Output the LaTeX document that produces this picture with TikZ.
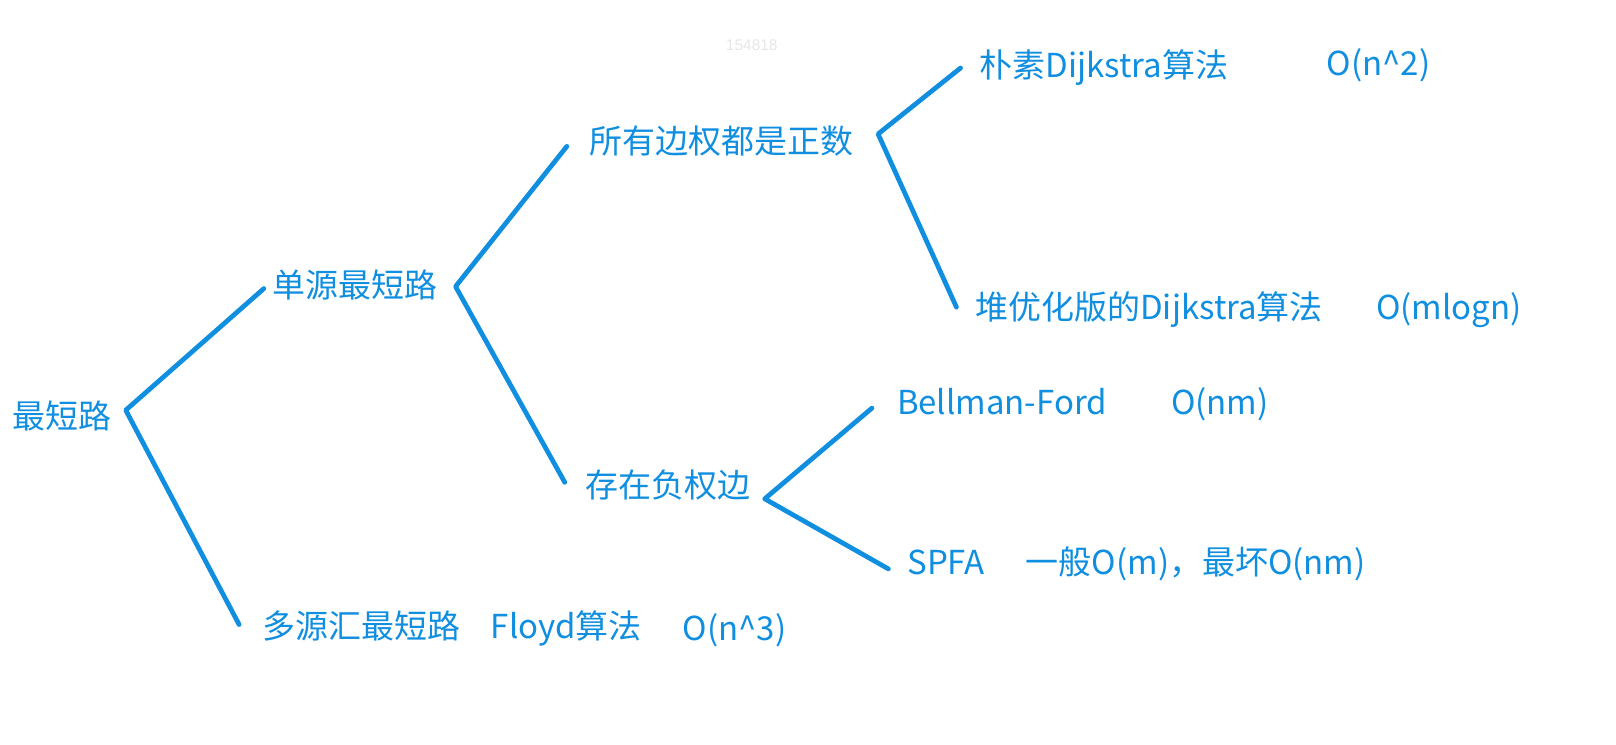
\documentclass[tikz,border=0pt]{standalone}
\usepackage{fontspec}
\setmainfont{Noto Sans CJK SC}
\newfontfamily\wmfont{Liberation Sans}
\definecolor{lc}{RGB}{16,142,224}
\definecolor{wm}{RGB}{230,230,230}
\begin{document}
\begin{tikzpicture}[x=0.5pt,y=-0.5pt,
  lbl/.style={anchor=west,inner sep=0pt,text=lc,font=\fontsize{16pt}{18pt}\selectfont,text height=13.6pt,text depth=2.4pt},
  branch/.style={draw=lc,line width=2.3pt,line cap=round,line join=round}]
\useasboundingbox (0,0) rectangle (1568,722);
% watermark
\node[anchor=west,inner sep=0pt,text=wm,font=\fontsize{7.5pt}{8pt}\selectfont\wmfont] (wm) at (704,44) {154818};
% text nodes
\node[lbl] (r) at (12,405) {最短路};
\node[lbl] (a) at (264,277) {单源最短路};
\node[lbl] (b) at (254,608) {多源汇最短路};
\node[lbl] (bf) at (476,608) {Floyd算法};
\node[lbl] (bo) at (662,610) {O(n\textasciicircum 3)};
\node[lbl] (c) at (572,138) {所有边权都是正数};
\node[lbl] (d) at (568,472) {存在负权边};
\node[lbl] (c1) at (950,64) {朴素Dijkstra算法};
\node[lbl] (c1o) at (1287,62) {O(n\textasciicircum 2)};
\node[lbl] (c2) at (946,299) {堆优化版的Dijkstra算法};
\node[lbl] (c2o) at (1335,299) {O(mlogn)};
\node[lbl] (d1) at (870,391) {Bellman-Ford};
\node[lbl] (d1o) at (1136,391) {O(nm)};
\node[lbl] (d2) at (880,546) {SPFA};
\node[lbl] (d2o) at (995,546) {一般O(m)，最坏O(nm)};
% branch points
\coordinate (v0) at (122,398);
\coordinate (v0a) at (256,280);
\coordinate (v0b) at (232,606);
\coordinate (v1) at (442,278);
\coordinate (v1a) at (550,142);
\coordinate (v1b) at (548,468);
\coordinate (v2) at (852,130);
\coordinate (v2a) at (932,66);
\coordinate (v2b) at (928,298);
\coordinate (v3) at (742,484);
\coordinate (v3a) at (846,396);
\coordinate (v3b) at (862,552);
\draw[branch] (v0a) -- (v0) -- (v0b);
\draw[branch] (v1a) -- (v1) -- (v1b);
\draw[branch] (v2a) -- (v2) -- (v2b);
\draw[branch] (v3a) -- (v3) -- (v3b);
\end{tikzpicture}
\end{document}
